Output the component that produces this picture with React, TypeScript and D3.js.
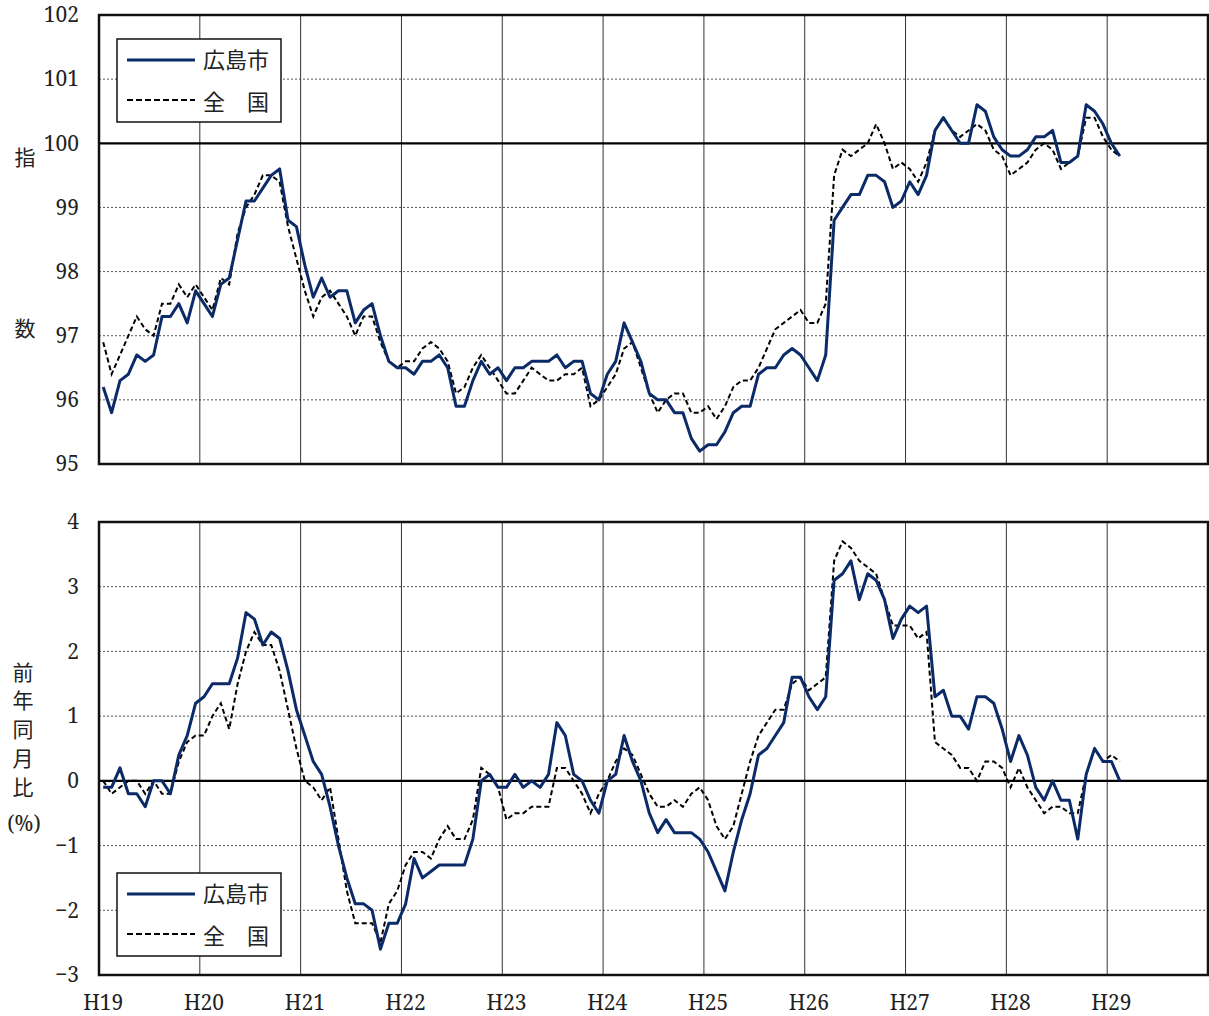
import React from "react";
import * as d3 from "d3";

const yearLabels = ["H19", "H20", "H21", "H22", "H23", "H24", "H25", "H26", "H27", "H28", "H29"];

// Index (H22 = 100), monthly from H19.1 to H29.2
const indexHiroshima = [
  96.2, 95.8, 96.3, 96.4, 96.7, 96.6, 96.7, 97.3, 97.3, 97.5, 97.2, 97.7,
  97.5, 97.3, 97.8, 97.9, 98.5, 99.1, 99.1, 99.3, 99.5, 99.6, 98.8, 98.7,
  98.1, 97.6, 97.9, 97.6, 97.7, 97.7, 97.2, 97.4, 97.5, 97.0, 96.6, 96.5,
  96.5, 96.4, 96.6, 96.6, 96.7, 96.5, 95.9, 95.9, 96.3, 96.6, 96.4, 96.5,
  96.3, 96.5, 96.5, 96.6, 96.6, 96.6, 96.7, 96.5, 96.6, 96.6, 96.1, 96.0,
  96.4, 96.6, 97.2, 96.9, 96.6, 96.1, 96.0, 96.0, 95.8, 95.8, 95.4, 95.2,
  95.3, 95.3, 95.5, 95.8, 95.9, 95.9, 96.4, 96.5, 96.5, 96.7, 96.8, 96.7,
  96.5, 96.3, 96.7, 98.8, 99.0, 99.2, 99.2, 99.5, 99.5, 99.4, 99.0, 99.1,
  99.4, 99.2, 99.5, 100.2, 100.4, 100.2, 100.0, 100.0, 100.6, 100.5, 100.1, 99.9,
  99.8, 99.8, 99.9, 100.1, 100.1, 100.2, 99.7, 99.7, 99.8, 100.6, 100.5, 100.3,
  100.0, 99.8,
];

const indexNational = [
  96.9, 96.4, 96.7, 97.0, 97.3, 97.1, 97.0, 97.5, 97.5, 97.8, 97.6, 97.8,
  97.6, 97.4, 97.9, 97.8, 98.6, 99.0, 99.2, 99.5, 99.5, 99.4, 98.7, 98.2,
  97.7, 97.3, 97.6, 97.7, 97.5, 97.3, 97.0, 97.3, 97.3, 96.9, 96.6, 96.5,
  96.6, 96.6, 96.8, 96.9, 96.8, 96.6, 96.1, 96.2, 96.5, 96.7, 96.5, 96.3,
  96.1, 96.1, 96.3, 96.5, 96.4, 96.3, 96.3, 96.4, 96.4, 96.5, 95.9, 96.0,
  96.2, 96.4, 96.8, 96.9, 96.5, 96.1, 95.8, 96.0, 96.1, 96.1, 95.8, 95.8,
  95.9, 95.7, 95.9, 96.2, 96.3, 96.3, 96.5, 96.8, 97.1, 97.2, 97.3, 97.4,
  97.2, 97.2, 97.5, 99.5, 99.9, 99.8, 99.9, 100.0, 100.3, 100.0, 99.6, 99.7,
  99.6, 99.4, 99.7, 100.2, 100.4, 100.2, 100.1, 100.2, 100.3, 100.2, 99.9, 99.8,
  99.5, 99.6, 99.7, 99.9, 100.0, 99.9, 99.6, 99.7, 99.8, 100.4, 100.4, 100.1,
  99.9, 99.8,
];

// Year-on-year change (%)
const yoyHiroshima = [
  -0.1, -0.1, 0.2, -0.2, -0.2, -0.4, 0.0, 0.0, -0.2, 0.4, 0.7, 1.2,
  1.3, 1.5, 1.5, 1.5, 1.9, 2.6, 2.5, 2.1, 2.3, 2.2, 1.7, 1.1,
  0.7, 0.3, 0.1, -0.4, -1.0, -1.5, -1.9, -1.9, -2.0, -2.6, -2.2, -2.2,
  -1.9, -1.2, -1.5, -1.4, -1.3, -1.3, -1.3, -1.3, -0.9, 0.0, 0.1, -0.1,
  -0.1, 0.1, -0.1, 0.0, -0.1, 0.1, 0.9, 0.7, 0.1, 0.0, -0.3, -0.5,
  0.0, 0.1, 0.7, 0.3, 0.0, -0.5, -0.8, -0.6, -0.8, -0.8, -0.8, -0.9,
  -1.1, -1.4, -1.7, -1.1, -0.6, -0.2, 0.4, 0.5, 0.7, 0.9, 1.6, 1.6,
  1.3, 1.1, 1.3, 3.1, 3.2, 3.4, 2.8, 3.2, 3.1, 2.8, 2.2, 2.5,
  2.7, 2.6, 2.7, 1.3, 1.4, 1.0, 1.0, 0.8, 1.3, 1.3, 1.2, 0.8,
  0.3, 0.7, 0.4, -0.1, -0.3, 0.0, -0.3, -0.3, -0.9, 0.1, 0.5, 0.3,
  0.3, 0.0,
];

const yoyNational = [
  0.0, -0.2, -0.1, 0.0, 0.0, -0.2, 0.0, -0.2, -0.2, 0.3, 0.6, 0.7,
  0.7, 1.0, 1.2, 0.8, 1.5, 2.0, 2.3, 2.1, 2.1, 1.7, 1.1, 0.5,
  0.0, -0.1, -0.3, -0.1, -0.9, -1.7, -2.2, -2.2, -2.2, -2.5, -1.9, -1.7,
  -1.3, -1.1, -1.1, -1.2, -0.9, -0.7, -0.9, -0.9, -0.6, 0.2, 0.1, -0.1,
  -0.6, -0.5, -0.5, -0.4, -0.4, -0.4, 0.2, 0.2, 0.0, -0.2, -0.5, -0.2,
  0.0, 0.3, 0.5, 0.4, 0.1, -0.2, -0.4, -0.4, -0.3, -0.4, -0.2, -0.1,
  -0.3, -0.7, -0.9, -0.7, -0.2, 0.3, 0.7, 0.9, 1.1, 1.1, 1.5, 1.6,
  1.4, 1.5, 1.6, 3.4, 3.7, 3.6, 3.4, 3.3, 3.2, 2.8, 2.4, 2.4,
  2.4, 2.2, 2.3, 0.6, 0.5, 0.4, 0.2, 0.2, 0.0, 0.3, 0.3, 0.2,
  -0.1, 0.2, -0.1, -0.3, -0.5, -0.4, -0.4, -0.5, -0.5, 0.1, 0.5, 0.3,
  0.4, 0.3,
];

const indexTicks = [95, 96, 97, 98, 99, 100, 101, 102];
const yoyTicks = [-3, -2, -1, 0, 1, 2, 3, 4];
const legendNames = ["広島市", "全\u3000国"];

const NAVY = "#0b2a68";
const serifStyle = { fontFamily: '"Noto Serif"' };
const jpStyle = { fontFamily: '"Noto Sans CJK JP"' };

const X0 = 99;
const X1 = 1208;
const MONTHS = 132;

function fmt(v: number) {
  return v < 0 ? "\u2212" + Math.abs(v) : String(v);
}

function Panel(props: {
  top: number;
  bottom: number;
  domain: [number, number];
  ticks: number[];
  refLine: number;
  a: number[];
  b: number[];
  legendY: number;
}) {
  const { top, bottom, domain, ticks, refLine, a, b, legendY } = props;
  const x = d3.scaleLinear().domain([0, MONTHS]).range([X0, X1]);
  const y = d3.scaleLinear().domain(domain).range([bottom, top]);
  const line = d3
    .line<number>()
    .x((_, i) => x(i + 0.5))
    .y((d) => y(d));
  const years = d3.range(1, 11);
  return (
    <g>
      {ticks
        .filter((t) => t !== domain[0] && t !== domain[1] && t !== refLine)
        .map((t) => (
          <line
            key={"h" + t}
            x1={X0}
            x2={X1}
            y1={y(t)}
            y2={y(t)}
            stroke="#555"
            strokeWidth={1}
            strokeDasharray="2,2"
          />
        ))}
      {years.map((k) => (
        <line
          key={"v" + k}
          x1={x(k * 12)}
          x2={x(k * 12)}
          y1={top}
          y2={bottom}
          stroke="#333"
          strokeWidth={1}
        />
      ))}
      <line x1={X0} x2={X1} y1={y(refLine)} y2={y(refLine)} stroke="#000" strokeWidth={2.2} />
      <path d={line(b) || ""} fill="none" stroke="#000" strokeWidth={2} strokeDasharray="5,3" />
      <path d={line(a) || ""} fill="none" stroke={NAVY} strokeWidth={3} strokeLinejoin="round" />
      <rect x={X0} y={top} width={X1 - X0} height={bottom - top} fill="none" stroke="#111" strokeWidth={2.5} />
      {ticks.map((t) => (
        <text
          key={"t" + t}
          x={79}
          y={y(t)}
          dy="0.35em"
          textAnchor="end"
          style={serifStyle}
          fontSize={21}
          fill="#222"
        >
          {fmt(t)}
        </text>
      ))}
      <g>
        <rect x={117} y={legendY} width={164} height={83} fill="#fff" stroke="#111" strokeWidth={1.5} />
        <line x1={127} x2={195} y1={legendY + 21} y2={legendY + 21} stroke={NAVY} strokeWidth={3} />
        <text x={203} y={legendY + 21} dy="0.36em" style={jpStyle} fontSize={22} fill="#222">
          {legendNames[0]}
        </text>
        <line
          x1={127}
          x2={195}
          y1={legendY + 61}
          y2={legendY + 61}
          stroke="#000"
          strokeWidth={2}
          strokeDasharray="6,3"
        />
        <text x={203} y={legendY + 63} dy="0.36em" style={jpStyle} fontSize={22} fill="#222">
          {legendNames[1]}
        </text>
      </g>
    </g>
  );
}

export default function App() {
  const x = d3.scaleLinear().domain([0, MONTHS]).range([X0, X1]);
  const leftTitleTop = ["指", "数"];
  const leftTitleBottom = ["前", "年", "同", "月", "比"];
  return (
    <svg width={1209} height={1016} style={{ display: "block", position: "absolute", left: 0, top: 0 }}>
      <rect width={1209} height={1016} fill="#fff" />
      <Panel
        top={15}
        bottom={464}
        domain={[95, 102]}
        ticks={indexTicks}
        refLine={100}
        a={indexHiroshima}
        b={indexNational}
        legendY={39}
      />
      <Panel
        top={522}
        bottom={975}
        domain={[-3, 4]}
        ticks={yoyTicks}
        refLine={0}
        a={yoyHiroshima}
        b={yoyNational}
        legendY={873}
      />
      {yearLabels.map((l, k) => (
        <text
          key={l}
          x={x(k * 12 + 0.5)}
          y={1010}
          textAnchor="middle"
          style={serifStyle}
          fontSize={21}
          fill="#222"
        >
          {l}
        </text>
      ))}
      <text x={25} y={157} dy="0.36em" textAnchor="middle" style={jpStyle} fontSize={21} fill="#222">
        {leftTitleTop[0]}
      </text>
      <text x={25} y={328} dy="0.36em" textAnchor="middle" style={jpStyle} fontSize={21} fill="#222">
        {leftTitleTop[1]}
      </text>
      {leftTitleBottom.map((c, i) => (
        <text
          key={c}
          x={23}
          y={672 + i * 28.8}
          dy="0.36em"
          textAnchor="middle"
          style={jpStyle}
          fontSize={21}
          fill="#222"
        >
          {c}
        </text>
      ))}
      <text x={24} y={823} dy="0.36em" textAnchor="middle" style={serifStyle} fontSize={21} fill="#222">
        (%)
      </text>
    </svg>
  );
}
